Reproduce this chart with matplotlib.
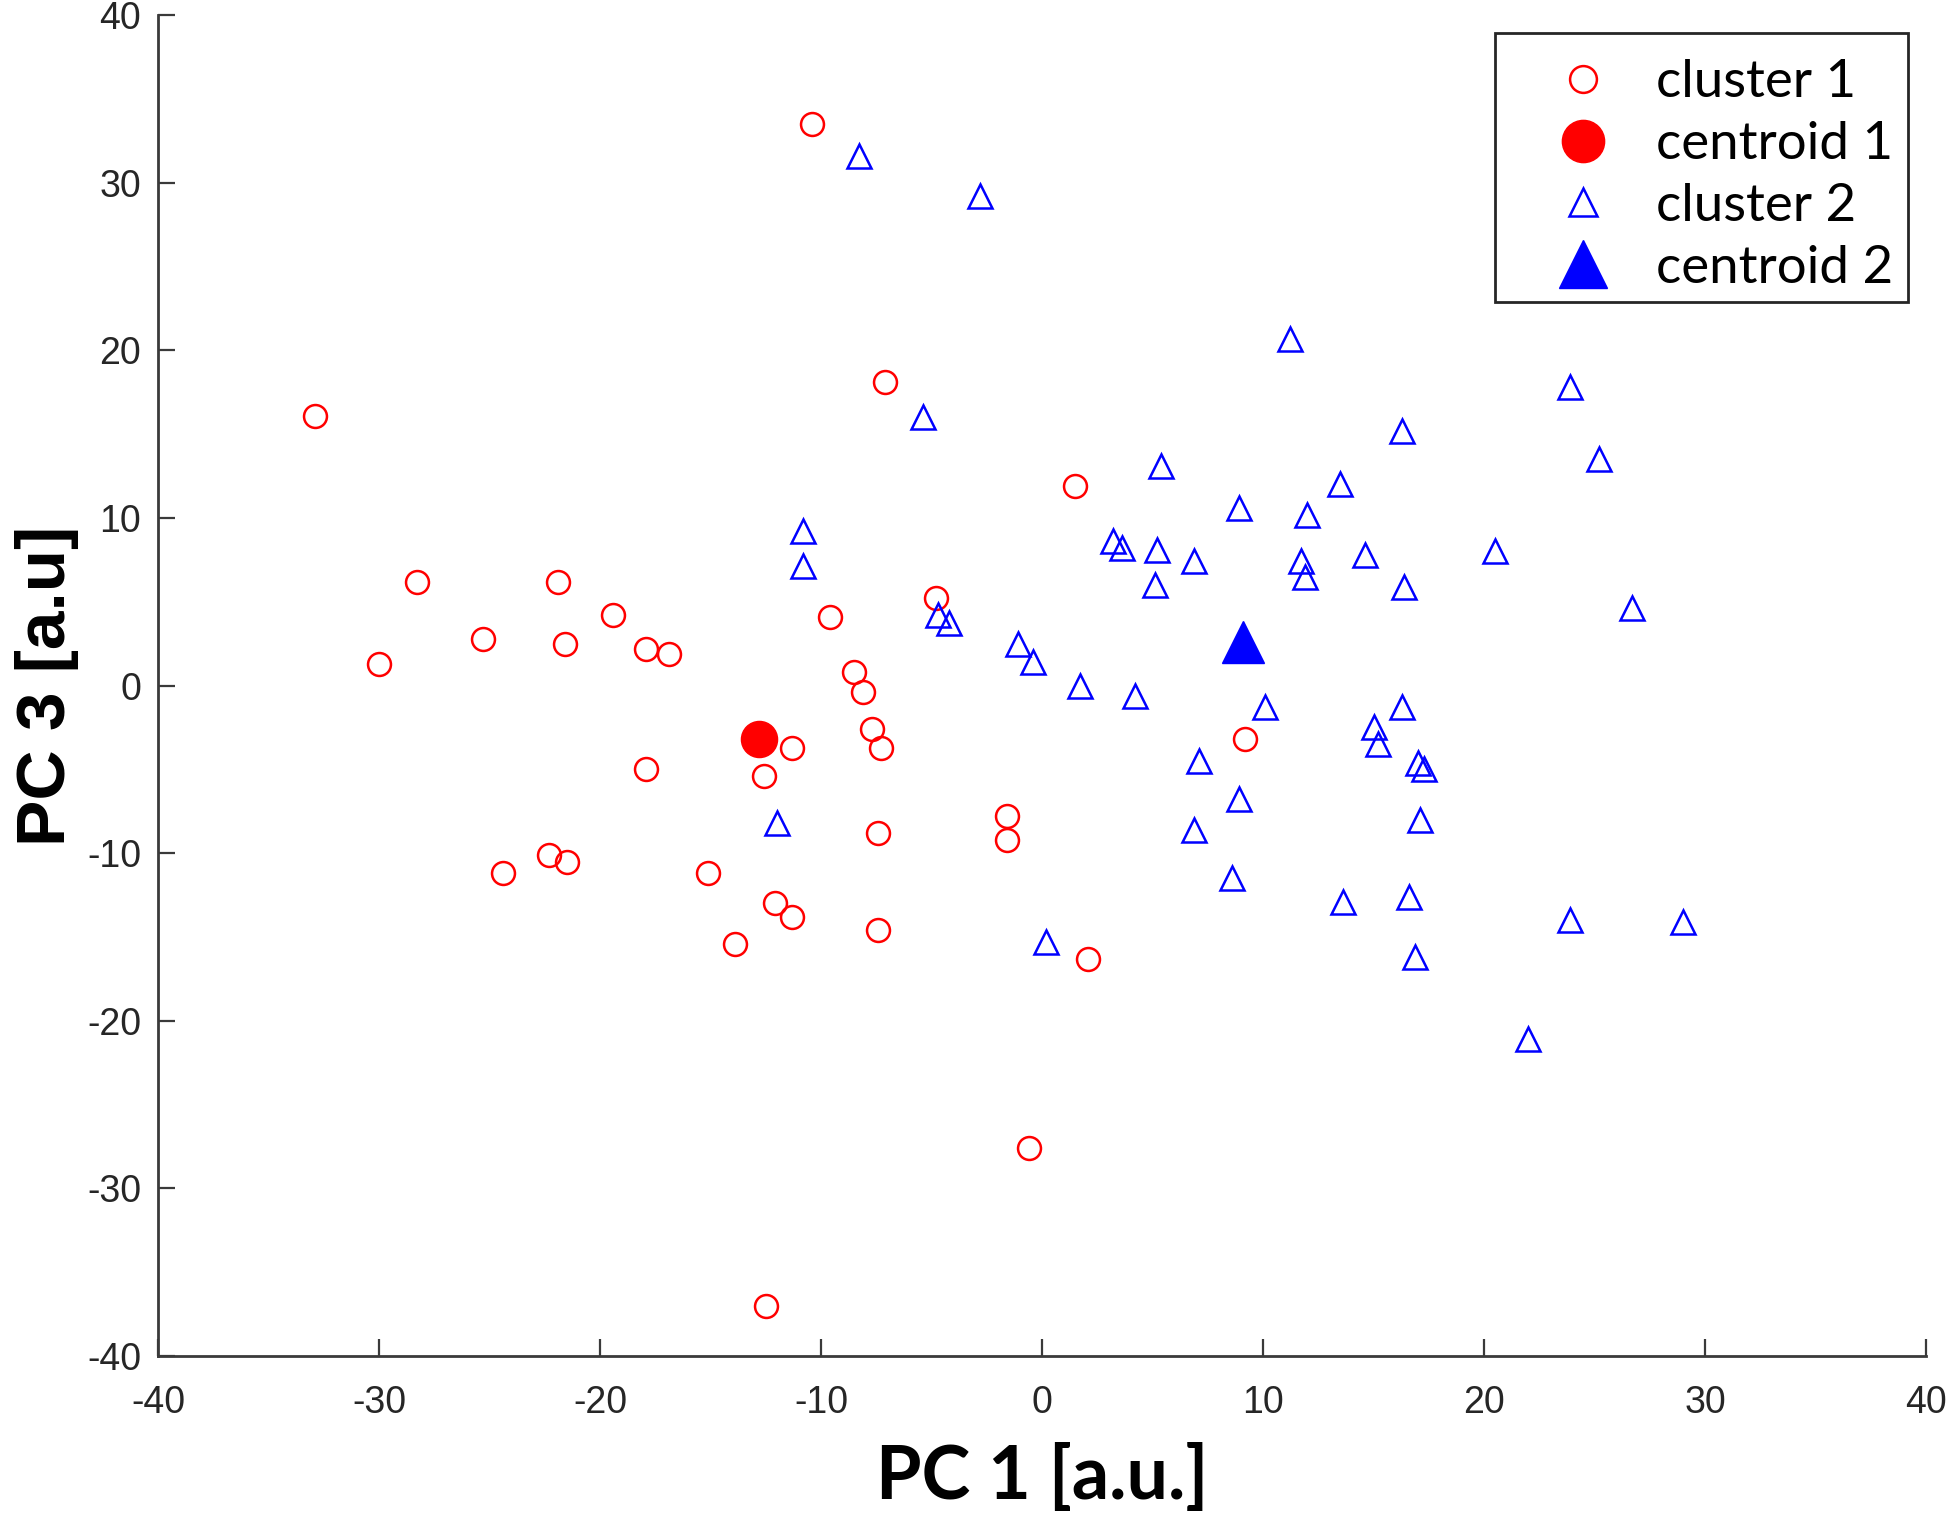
import numpy as np
import matplotlib
matplotlib.use("Agg")
import matplotlib.pyplot as plt
from matplotlib.patches import Rectangle

plt.rcParams['axes.unicode_minus'] = False

# cluster 1 (red circles)
c1_x = [-10.4, -32.9, -7.1, 1.5, -28.3, -21.9, -19.4, -25.3, -21.6, -30.0,
        -17.9, -16.9, -4.8, -9.6, -8.5, -8.1, -7.7, -7.3, -11.3, -12.6,
        -17.9, -7.4, -1.6, -1.6, -22.3, -21.5, -24.4, -15.1, -12.1, -11.3,
        -13.9, -7.4, 2.1, 9.2, -0.6, -12.5]
c1_y = [33.5, 16.1, 18.1, 11.9, 6.2, 6.2, 4.2, 2.8, 2.5, 1.3,
        2.2, 1.9, 5.2, 4.1, 0.8, -0.4, -2.6, -3.7, -3.7, -5.4,
        -5.0, -8.8, -7.8, -9.2, -10.1, -10.5, -11.2, -11.2, -13.0, -13.8,
        -15.4, -14.6, -16.3, -3.2, -27.6, -37.0]

# cluster 2 (blue triangles)
c2_x = [-8.3, -2.8, 11.2, 23.9, -5.4, 16.3, 25.2, 5.4, 13.5, 8.9,
        12.0, -10.8, 3.2, 3.6, 5.2, 6.9, 14.6, 20.5, 11.7, 11.9,
        -10.8, 5.1, 16.4, 26.7, -4.7, -4.2, -1.1, -0.4, 1.7, 4.2,
        10.1, 16.3, 15.0, 15.2, 17.0, 17.3, 7.1, 8.9, -12.0, 17.1,
        6.9, 8.6, 13.6, 16.6, 23.9, 29.0, 0.2, 16.9, 22.0]
c2_y = [31.6, 29.2, 20.7, 17.8, 16.0, 15.2, 13.5, 13.1, 12.0, 10.6,
        10.2, 9.2, 8.6, 8.2, 8.1, 7.4, 7.8, 8.0, 7.4, 6.5,
        7.1, 6.0, 5.9, 4.6, 4.2, 3.7, 2.5, 1.4, 0.0, -0.6,
        -1.3, -1.3, -2.5, -3.5, -4.6, -5.0, -4.5, -6.8, -8.2, -8.0,
        -8.6, -11.5, -12.9, -12.6, -14.0, -14.1, -15.3, -16.2, -21.1]

centroid1 = [-12.8, -3.2]
centroid2 = [9.1, 2.6]

ticks = [-40, -30, -20, -10, 0, 10, 20, 30, 40]

fig = plt.figure(figsize=(19.5, 15.21), dpi=100)
ax = fig.add_axes([158 / 1950, 1 - 1356 / 1521, (1926 - 158) / 1950, (1356 - 15) / 1521])

ax.plot(c1_x, c1_y, 'o', ls='none', mfc='none', mec='red', ms=16.5, mew=1.8, label='cluster 1')
ax.plot(centroid1[0], centroid1[1], 'o', ls='none', mfc='red', mec='red', ms=26, label='centroid 1')
ax.plot(c2_x, c2_y, '^', ls='none', mfc='none', mec='blue', ms=17, mew=1.8, label='cluster 2')
ax.plot(centroid2[0], centroid2[1], '^', ls='none', mfc='blue', mec='blue', ms=30, label='centroid 2')

ax.set_xlim(-40, 40)
ax.set_ylim(-40, 40)
ax.set_xticks(ticks)
ax.set_yticks(ticks)
ax.spines['top'].set_visible(False)
ax.spines['right'].set_visible(False)
for s in ['left', 'bottom']:
    ax.spines[s].set_color('#3a3a3a')
    ax.spines[s].set_linewidth(2.0)
ax.tick_params(direction='in', length=12, width=1.6, color='#3a3a3a',
               labelsize=27, labelcolor='#262626')
ax.tick_params(axis='x', pad=21)
ax.tick_params(axis='y', pad=12)
for lab in ax.get_xticklabels() + ax.get_yticklabels():
    lab.set_family('Liberation Sans')

ax.set_xlabel('PC 1 [a.u.]', fontsize=53, fontweight='bold', family='Lato', labelpad=16)
ax.set_ylabel('PC 3 [a.u]', fontsize=50, fontweight='bold', family='Liberation Sans', labelpad=6)

# legend entries without frame, box drawn separately to match the reference padding
leg = ax.legend(loc='upper right', bbox_to_anchor=(1920 / 1950, 1 - 33 / 1521),
                bbox_transform=fig.transFigure, frameon=False,
                prop={'family': 'Lato', 'size': 38}, markerscale=1.17,
                handlelength=2.3, handletextpad=0.25, borderpad=0.5, labelspacing=0.28,
                borderaxespad=0)
fig.add_artist(Rectangle((1495 / 1950, 1 - 302 / 1521), 413 / 1950, 269 / 1521,
                         transform=fig.transFigure, fill=False, ec='#262626', lw=2.0))

fig.savefig('out.png', dpi=100)
